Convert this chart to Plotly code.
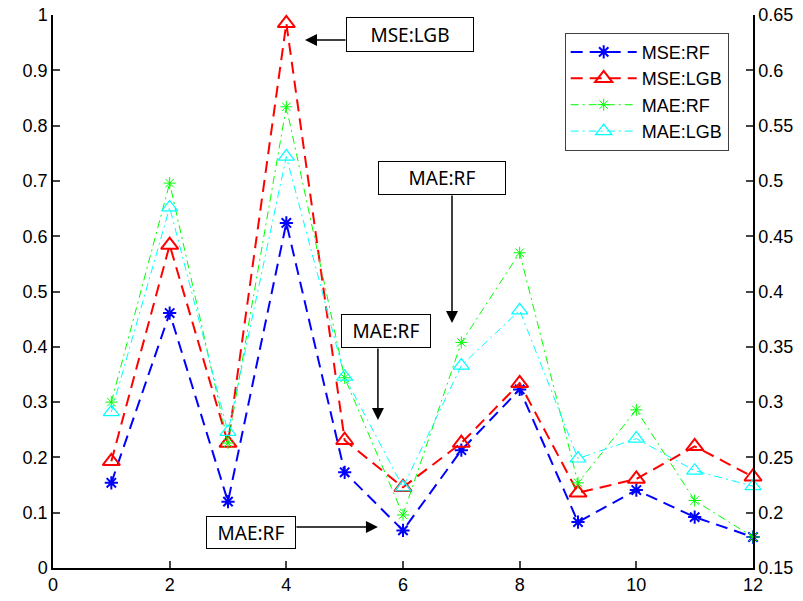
import plotly.graph_objects as go

x_vals = [1, 2, 3, 4, 5, 6, 7, 8, 9, 10, 11, 12]
mse_rf = [0.154, 0.461, 0.120, 0.624, 0.173, 0.068, 0.213, 0.323, 0.083, 0.141, 0.092, 0.056]
mse_lgb = [0.193, 0.584, 0.226, 0.985, 0.231, 0.146, 0.226, 0.334, 0.136, 0.161, 0.220, 0.165]
mae_rf = [0.300, 0.498, 0.263, 0.567, 0.322, 0.198, 0.354, 0.435, 0.227, 0.293, 0.211, 0.178]
mae_lgb = [0.291, 0.476, 0.273, 0.522, 0.323, 0.223, 0.333, 0.383, 0.249, 0.267, 0.238, 0.224]

x_ticks = [0, 2, 4, 6, 8, 10, 12]
y_ticks = [0, 0.1, 0.2, 0.3, 0.4, 0.5, 0.6, 0.7, 0.8, 0.9, 1]
y_ticktext = ["0", "0.1", "0.2", "0.3", "0.4", "0.5", "0.6", "0.7", "0.8", "0.9", "1"]
y2_ticks = [0.15, 0.2, 0.25, 0.3, 0.35, 0.4, 0.45, 0.5, 0.55, 0.6, 0.65]
y2_ticktext = ["0.15", "0.2", "0.25", "0.3", "0.35", "0.4", "0.45", "0.5", "0.55", "0.6", "0.65"]

fig = go.Figure()
fig.add_trace(go.Scatter(x=x_vals, y=mse_rf, name="MSE:RF", mode="lines+markers", cliponaxis=False,
                         line=dict(color="#0000FF", width=2, dash="12px,7px"),
                         marker=dict(symbol="asterisk-open", size=11, line=dict(color="#0000FF", width=2))))
fig.add_trace(go.Scatter(x=x_vals, y=mse_lgb, name="MSE:LGB", mode="lines+markers", cliponaxis=False,
                         line=dict(color="#FF0000", width=2, dash="12px,7px"),
                         marker=dict(symbol="triangle-up-open", size=15, line=dict(color="#FF0000", width=2))))
fig.add_trace(go.Scatter(x=x_vals, y=mae_rf, name="MAE:RF", mode="lines+markers", yaxis="y2", cliponaxis=False,
                         line=dict(color="#00FF00", width=1, dash="8px,4px,2px,4px"),
                         marker=dict(symbol="asterisk-open", size=10, line=dict(color="#00FF00", width=1))))
fig.add_trace(go.Scatter(x=x_vals, y=mae_lgb, name="MAE:LGB", mode="lines+markers", yaxis="y2", cliponaxis=False,
                         line=dict(color="#00FFFF", width=1, dash="8px,4px,2px,4px"),
                         marker=dict(symbol="triangle-up-open", size=14, line=dict(color="#00FFFF", width=1.2))))

tick_font = dict(family="Liberation Sans, Arial, sans-serif", size=18, color="#000000")
box_font = dict(family="Noto Sans, sans-serif", size=19, color="#000000")

boxes = [
    dict(text="MSE:LGB", x=6.12, y=0.965, w=122, h=29),
    dict(text="MAE:RF", x=6.67, y=0.705, w=122, h=28),
    dict(text="MAE:RF", x=5.71, y=0.4286, w=84, h=28),
    dict(text="MAE:RF", x=3.394, y=0.0642, w=84, h=27),
]
arrows = [
    dict(x=4.32, y=0.955, ax=42, ay=0),
    dict(x=6.84, y=0.443, ax=0, ay=-129),
    dict(x=5.57, y=0.2676, ax=0, ay=-73),
    dict(x=5.57, y=0.0741, ax=-83, ay=0),
]
annotations = []
for b in boxes:
    annotations.append(dict(x=b["x"], y=b["y"], xref="x", yref="y", text=b["text"], showarrow=False,
                            font=box_font, bordercolor="#000000", borderwidth=1, borderpad=2,
                            bgcolor="#FFFFFF", width=b["w"], height=b["h"], align="center",
                            xanchor="center", yanchor="middle"))
for a in arrows:
    annotations.append(dict(x=a["x"], y=a["y"], xref="x", yref="y", text="", showarrow=True,
                            ax=a["ax"], ay=a["ay"], arrowhead=2, arrowsize=1.6, arrowwidth=1.5,
                            arrowcolor="#000000", standoff=0, startstandoff=0))

fig.update_layout(
    width=803, height=601,
    margin=dict(l=53, r=50, t=15, b=33, autoexpand=False),
    paper_bgcolor="#FFFFFF", plot_bgcolor="#FFFFFF",
    showlegend=True,
    legend=dict(x=0.731, y=0.968, xanchor="left", yanchor="top",
                bordercolor="#404040", borderwidth=1, bgcolor="#FFFFFF",
                font=dict(family="Liberation Sans, Arial, sans-serif", size=18, color="#000000"),
                itemwidth=66, tracegroupgap=0),
    xaxis=dict(range=[0, 12], tickvals=x_ticks, ticks="inside", ticklen=7, tickwidth=1.5,
               showline=True, linecolor="#000000", linewidth=1.5, showgrid=False, zeroline=False,
               tickfont=tick_font, mirror=False, automargin=False),
    yaxis=dict(range=[0, 1], tickvals=y_ticks, ticktext=y_ticktext, ticks="inside", ticklen=7,
               tickwidth=1.5, showline=True, linecolor="#000000", linewidth=1.5, showgrid=False,
               zeroline=False, tickfont=tick_font, automargin=False),
    yaxis2=dict(range=[0.15, 0.65], tickvals=y2_ticks, ticktext=y2_ticktext, overlaying="y",
                side="right", ticks="inside", ticklen=7, tickwidth=1.5, showline=True,
                linecolor="#000000", linewidth=1.5, showgrid=False, zeroline=False, tickfont=tick_font,
                automargin=False),
    annotations=annotations,
)

fig.write_html("out.html")
